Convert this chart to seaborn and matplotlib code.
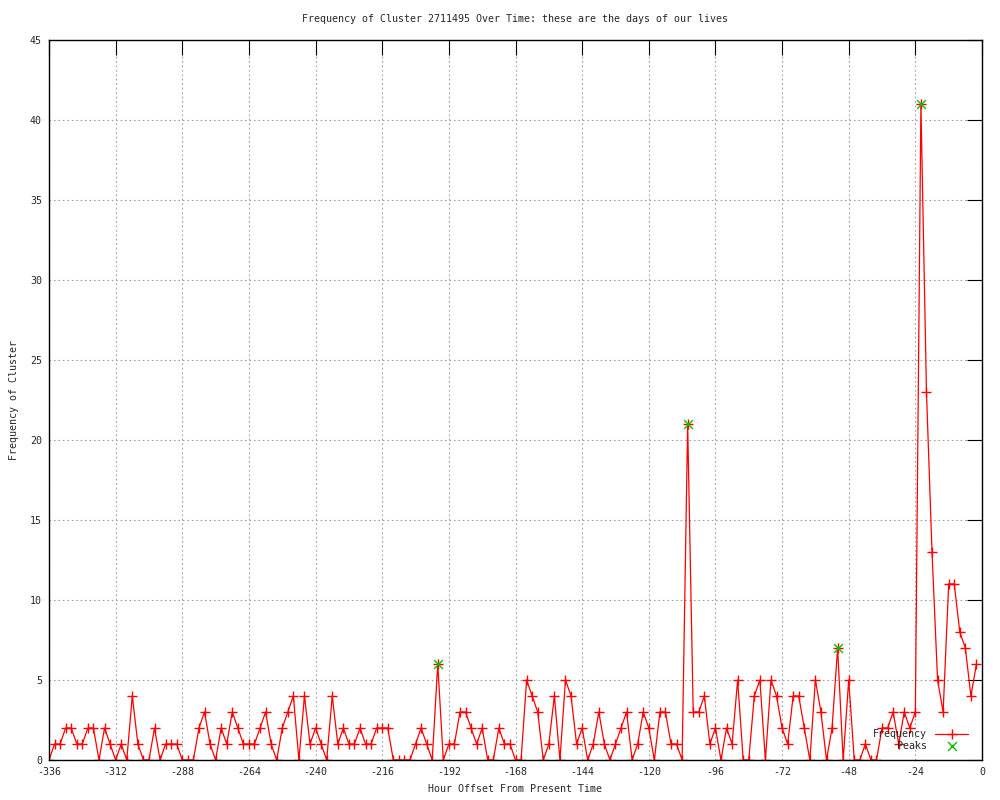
import numpy as np
import pandas as pd
import matplotlib
matplotlib.use('Agg')
import matplotlib.pyplot as plt
import seaborn as sns

# hourly offsets (2 h bins) and cluster counts
hours = np.arange(-336, 0, 2)
freq = [0, 1, 1, 2, 2, 1, 1, 2, 2, 0, 2, 1, 0, 1, 0, 4, 1, 0, 0, 2,
        0, 1, 1, 1, 0, 0, 0, 2, 3, 1, 0, 2, 1, 3, 2, 1, 1, 1, 2, 3,
        1, 0, 2, 3, 4, 0, 4, 1, 2, 1, 0, 4, 1, 2, 1, 1, 2, 1, 1, 2,
        2, 2, 0, 0, 0, 0, 1, 2, 1, 0, 6, 0, 1, 1, 3, 3, 2, 1, 2, 0,
        0, 2, 1, 1, 0, 0, 5, 4, 3, 0, 1, 4, 0, 5, 4, 1, 2, 0, 1, 3,
        1, 0, 1, 2, 3, 0, 1, 3, 2, 0, 3, 3, 1, 1, 0, 21, 3, 3, 4, 1,
        2, 0, 2, 1, 5, 0, 0, 4, 5, 0, 5, 4, 2, 1, 4, 4, 2, 0, 5, 3,
        0, 2, 7, 0, 5, 0, 0, 1, 0, 0, 2, 2, 3, 1, 3, 2, 3, 41, 23, 13,
        5, 3, 11, 11, 8, 7, 4, 6]
peak_hours = [-196, -106, -52, -22]
peak_values = [6, 21, 7, 41]

x_ticks = list(range(-336, 1, 24))
y_ticks = list(range(0, 46, 5))

df = pd.DataFrame({'hour': hours, 'freq': freq})
peaks = pd.DataFrame({'hour': peak_hours, 'freq': peak_values})

sns.set_style('white')
plt.rcParams['font.family'] = ['DejaVu Sans Mono']
plt.rcParams['font.size'] = 7.2
plt.rcParams['axes.unicode_minus'] = False

fig = plt.figure(figsize=(10, 8), dpi=100)
ax = fig.add_axes([0.049, 0.05, 0.933, 0.90])

sns.lineplot(data=df, x='hour', y='freq', ax=ax, color='#ff0000', linewidth=0.9,
             marker='+', markersize=7, markeredgewidth=1.0, markeredgecolor='#ff0000',
             label='Frequency')
sns.scatterplot(data=peaks, x='hour', y='freq', ax=ax, color='#00c000', marker='x',
                s=40, linewidth=1.0, label='Peaks', zorder=5)

ax.set_xlim(-336, 0)
ax.set_ylim(0, 45)
ax.set_xticks(x_ticks)
ax.set_yticks(y_ticks)
ax.grid(True, color='#a0a0a0', linestyle=(0, (1.5, 2.5)), linewidth=0.8)
ax.tick_params(direction='in', length=11, width=0.8, color='black',
               top=True, right=True, labelsize=7.2, pad=5)
for s in ax.spines.values():
    s.set_color('black')
    s.set_linewidth(1.0)

ax.set_title('Frequency of Cluster 2711495 Over Time: these are the days of our lives',
             fontsize=7.2, pad=13)
ax.set_xlabel('Hour Offset From Present Time', fontsize=7.2, labelpad=5)
ax.set_ylabel('Frequency of Cluster', fontsize=7.2, labelpad=8)

ax.legend(loc='lower right', bbox_to_anchor=(0.995, 0.0), frameon=False,
          markerfirst=False, handlelength=3.3, fontsize=7.2, labelspacing=0.2,
          handletextpad=0.8)

plt.savefig('out.png', dpi=100)
